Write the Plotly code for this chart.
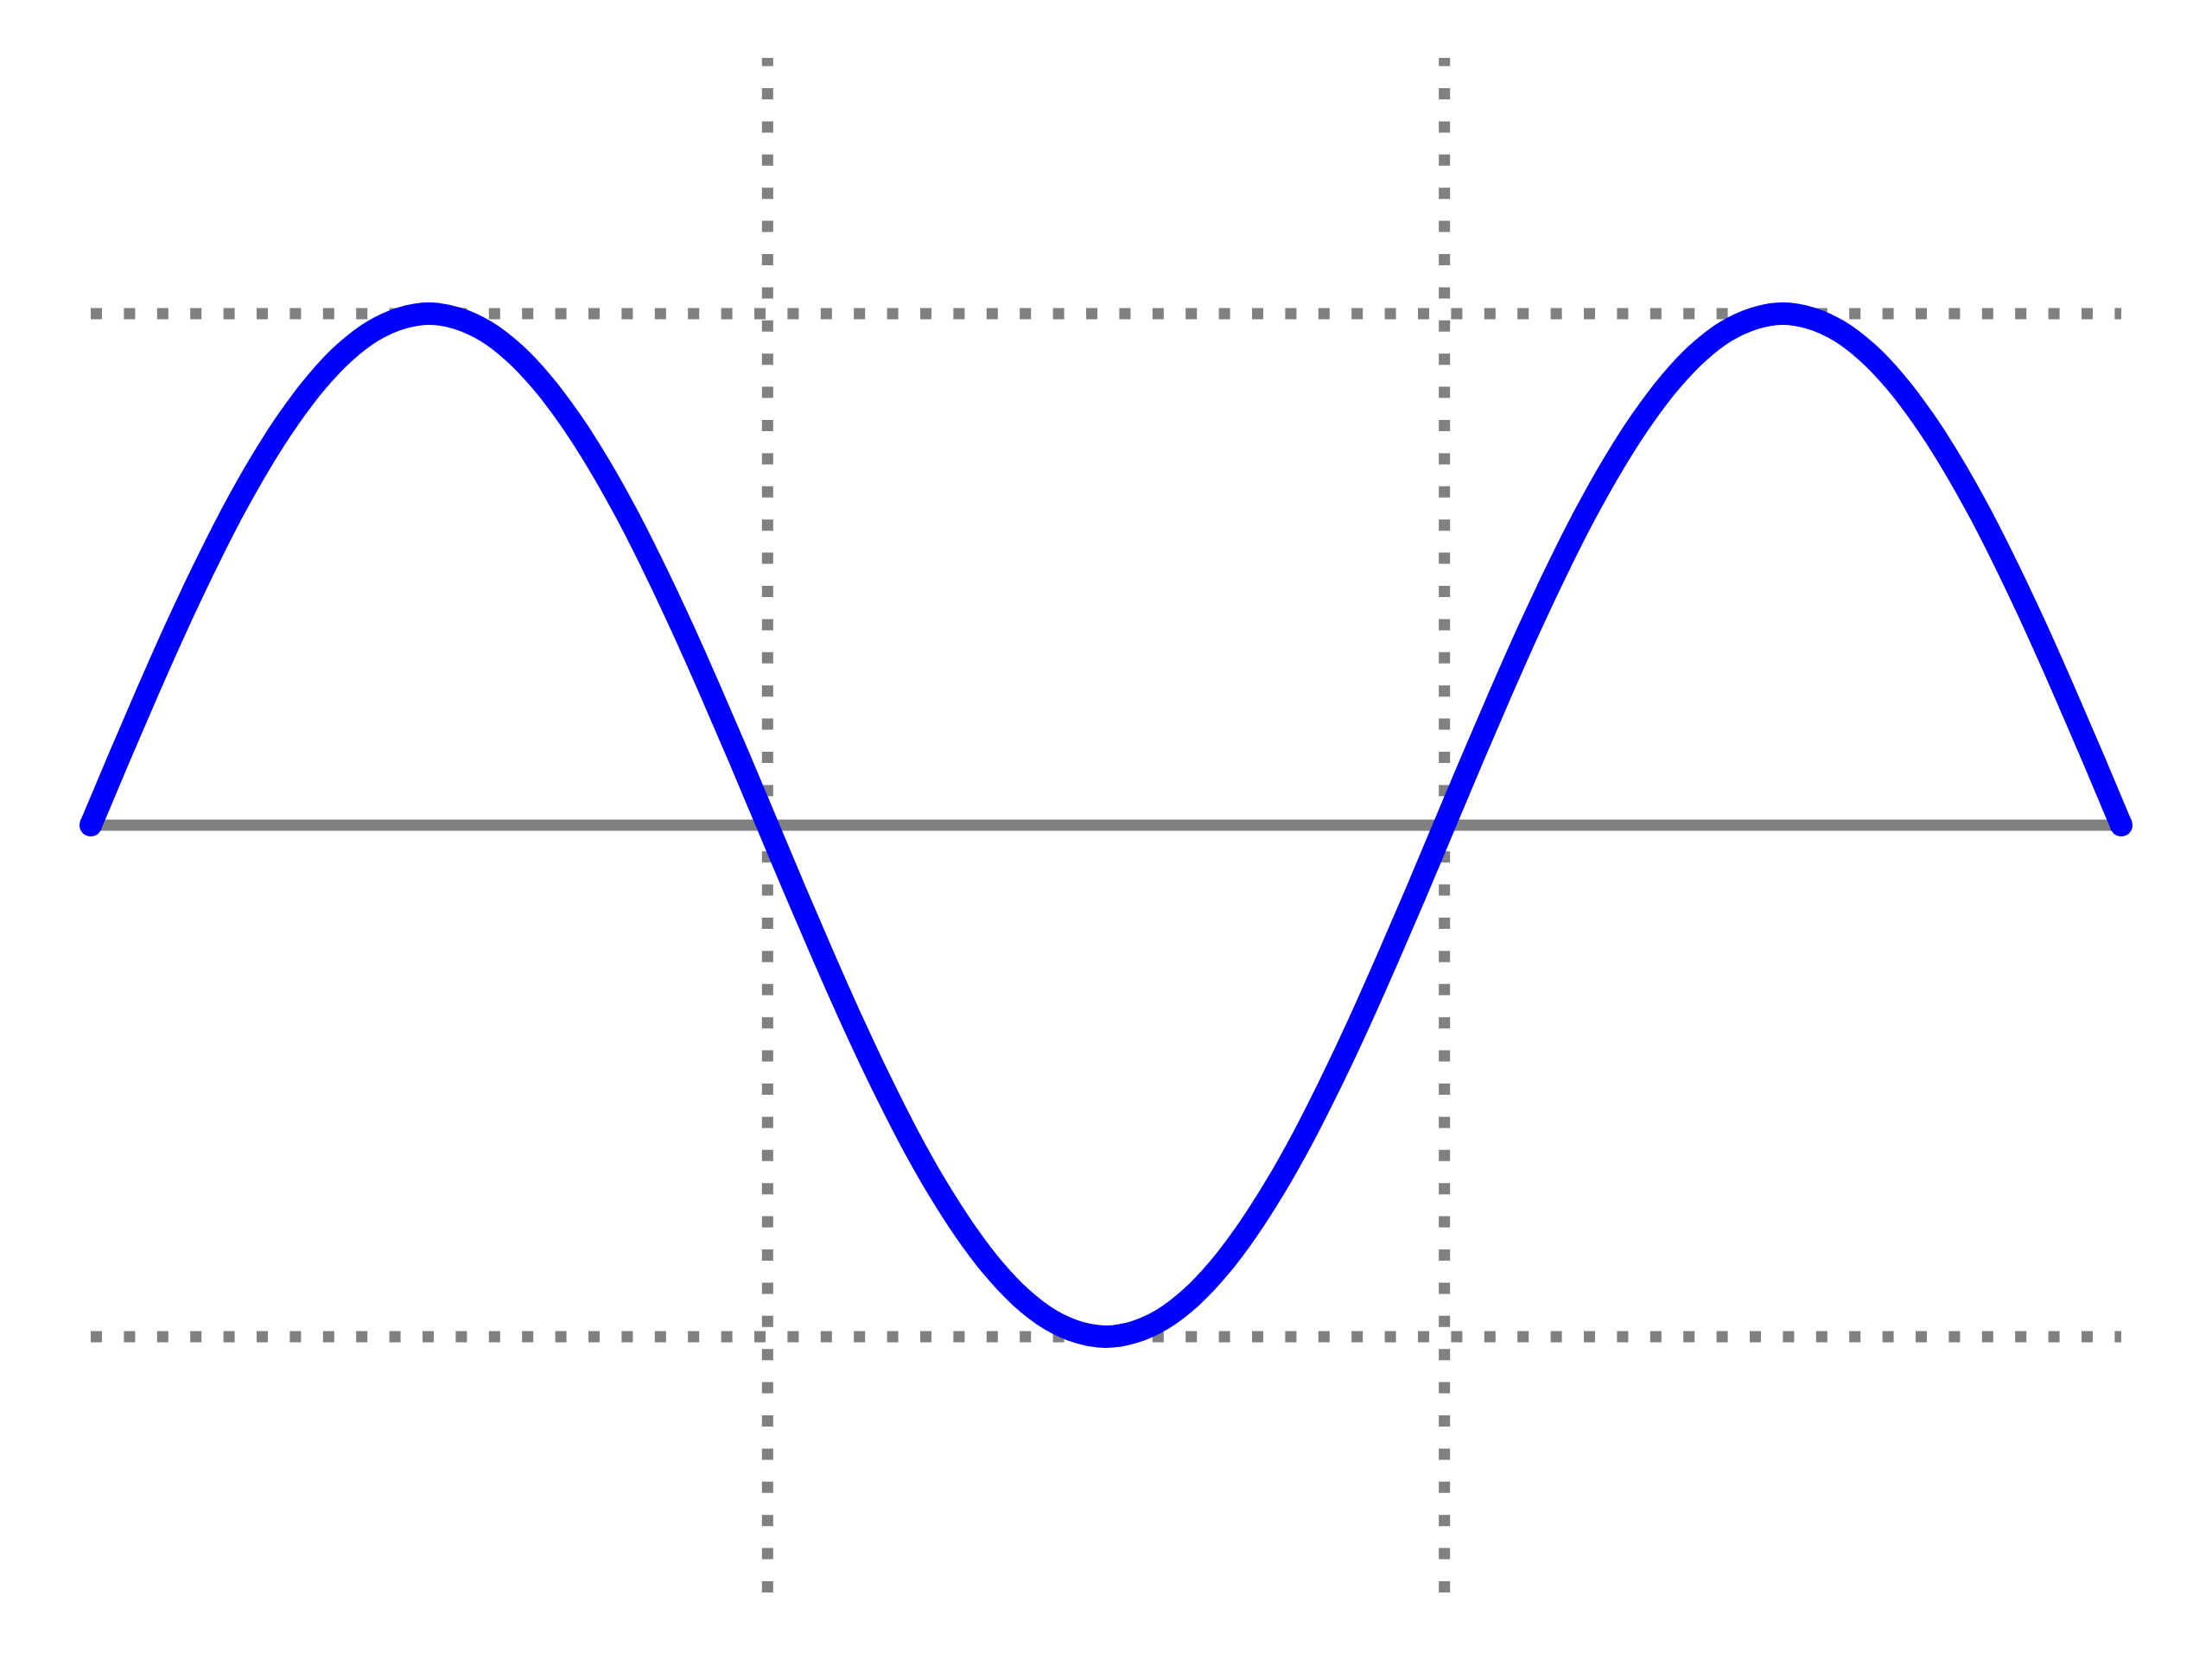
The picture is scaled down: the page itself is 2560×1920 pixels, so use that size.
import math
import plotly.graph_objects as go

# Curve heights at every pi/24 along x
curve_y = [
    0, 0.131, 0.259, 0.383, 0.5, 0.609, 0.707, 0.793, 0.866, 0.924, 0.966, 0.991,
    1, 0.991, 0.966, 0.924, 0.866, 0.793, 0.707, 0.609, 0.5, 0.383, 0.259, 0.131,
    0, -0.131, -0.259, -0.383, -0.5, -0.609, -0.707, -0.793, -0.866, -0.924, -0.966, -0.991,
    -1, -0.991, -0.966, -0.924, -0.866, -0.793, -0.707, -0.609, -0.5, -0.383, -0.259, -0.131,
    0, 0.131, 0.259, 0.383, 0.5, 0.609, 0.707, 0.793, 0.866, 0.924, 0.966, 0.991,
    1, 0.991, 0.966, 0.924, 0.866, 0.793, 0.707, 0.609, 0.5, 0.383, 0.259, 0.131,
    0,
]
curve_x = [k * math.pi / 24 for k in range(len(curve_y))]

x_start, x_end = 0, 3 * math.pi
h_levels = [1, -1]
v_positions = [math.pi, 2 * math.pi]
v_extent = [-1.5, 1.5]

gray = "#808080"
blue = "#0000ff"
dot = "13px,25.4px"

fig = go.Figure()

for yl in h_levels:
    fig.add_trace(go.Scatter(x=[x_start, x_end], y=[yl, yl], mode="lines",
                             line=dict(color=gray, width=13, dash=dot), hoverinfo="skip"))
for xv in v_positions:
    fig.add_trace(go.Scatter(x=[xv, xv], y=[v_extent[0], v_extent[1]], mode="lines",
                             line=dict(color=gray, width=13, dash=dot), hoverinfo="skip"))

fig.add_trace(go.Scatter(x=[x_start, x_end], y=[0, 0], mode="lines",
                         line=dict(color=gray, width=13), hoverinfo="skip"))

fig.add_trace(go.Scatter(x=curve_x, y=curve_y, mode="lines",
                         line=dict(color=blue, width=26, shape="spline", smoothing=1.0,
                                   simplify=False)))
fig.add_trace(go.Scatter(x=[curve_x[0], curve_x[-1]], y=[curve_y[0], curve_y[-1]], mode="markers",
                         marker=dict(color=blue, size=26, line=dict(width=0))))

# page body adds an 8 px offset; compensate
x0_px, y0_px = 97, 947
px_per_x = 2350 / (3 * math.pi)
px_per_y = 592
xr = [-x0_px / px_per_x, (2560 - x0_px) / px_per_x]
yr = [-(1920 - y0_px) / px_per_y, y0_px / px_per_y]

fig.update_layout(
    width=2560, height=1920,
    margin=dict(l=0, r=0, t=0, b=0),
    paper_bgcolor="white", plot_bgcolor="white",
    showlegend=False,
    xaxis=dict(range=xr, visible=False, showgrid=False, zeroline=False),
    yaxis=dict(range=yr, visible=False, showgrid=False, zeroline=False),
)

fig.write_html("out.html")
